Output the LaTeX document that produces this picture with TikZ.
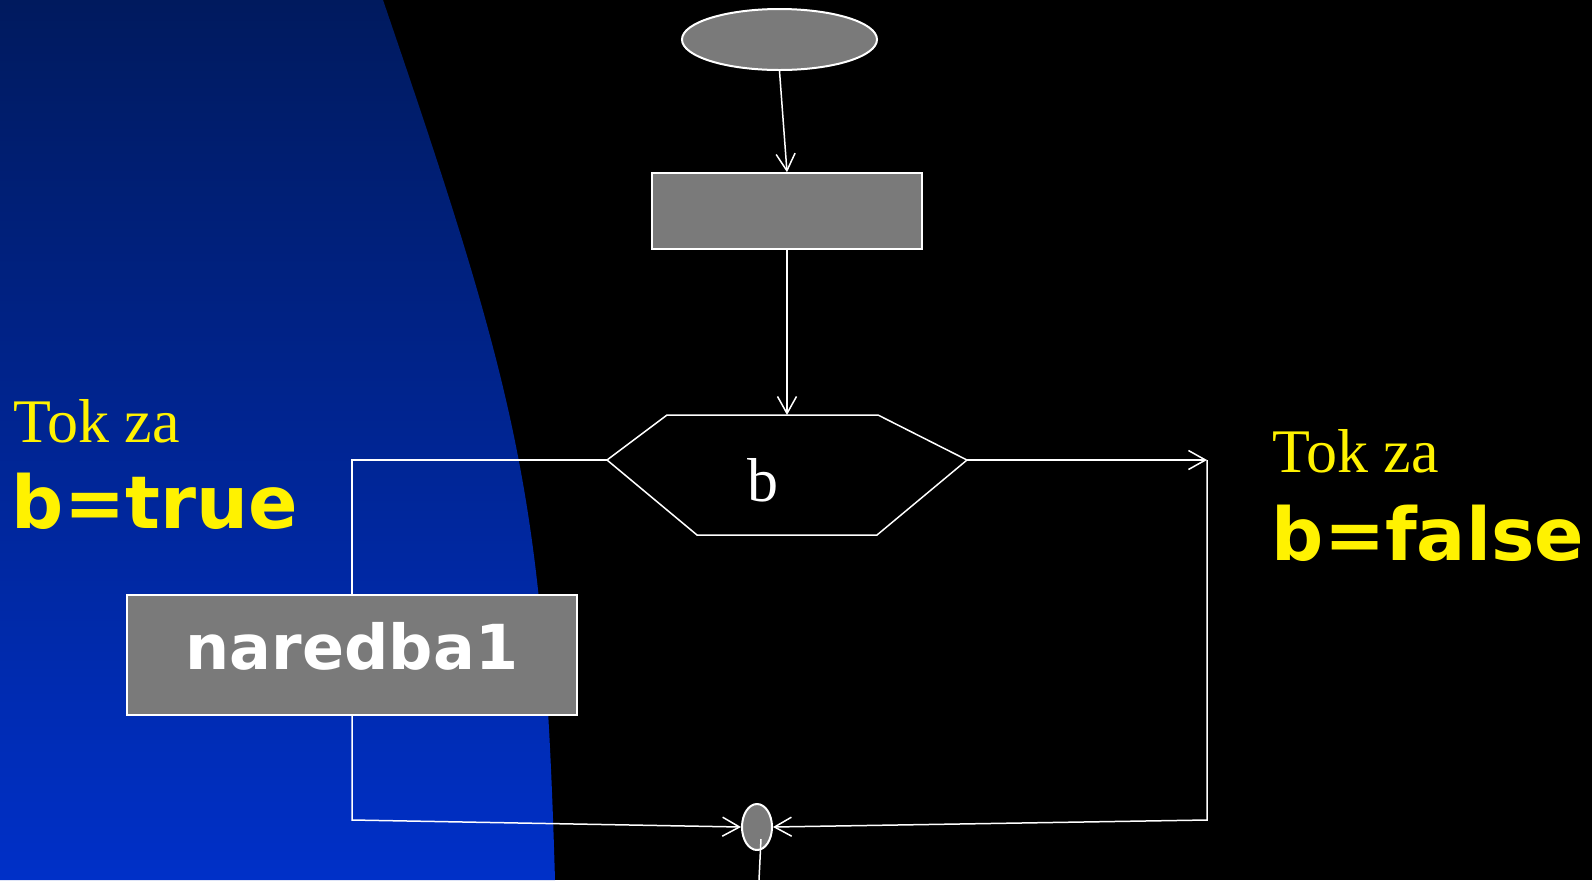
\documentclass[tikz,border=0pt]{standalone}
\usepackage{fontspec}
\setmainfont{Liberation Serif}
\newfontfamily\verdana{DejaVu Sans}
\usetikzlibrary{shapes.geometric,arrows.meta}
\definecolor{boxgray}{HTML}{7A7A7A}
\definecolor{navytop}{HTML}{001A5E}
\definecolor{navymid}{HTML}{002BB4}
\definecolor{bluebot}{HTML}{0030C8}

\begin{document}
\begin{tikzpicture}[x=0.5pt, y=-0.5pt, line width=0.75pt,
    flow/.style={draw=white, fill=boxgray, inner sep=0pt},
    conn/.style={white, -{Straight Barb[length=8.5pt, width=9.5pt]}},
    wire/.style={white},
    tok/.style={yellow, font=\fontsize{31}{36}\selectfont, anchor=base west, inner sep=0pt},
    cond/.style={yellow, font=\verdana\bfseries\fontsize{36.5}{42}\selectfont, anchor=base west, inner sep=0pt}]
    \useasboundingbox (0,0) rectangle (1592,880);
    \fill[black] (0,0) rectangle (1592,880);
    \shade[top color=navytop, middle color=navymid, bottom color=bluebot] (0,0) -- (383,0) .. controls (520,400) and (544,500) .. (555,880) -- (0,880) -- cycle;

    \node[flow, ellipse, minimum width=97.5pt, minimum height=30.5pt, line width=1pt] (start) at (779.5,39.5) {};
    \node[flow, minimum width=135pt, minimum height=38pt] (stmt) at (787,211) {};
    \coordinate (hexT) at (787,415);
    \coordinate (hexL) at (607,460);
    \coordinate (hexR) at (967,460);
    \draw[wire] (667,415) -- (878,415) -- (hexR) -- (877,535) -- (697,535) -- (hexL) -- cycle;
    \node[white, font=\fontsize{31}{36}\selectfont, anchor=base, inner sep=0pt] (cond) at (763,501) {b};
    \node[flow, minimum width=225pt, minimum height=60pt, text=white, text depth=9.5pt,
          font=\verdana\bfseries\fontsize{31}{36}\selectfont] (stmtA) at (352,655) {naredba1};
    \node[flow, ellipse, minimum width=15pt, minimum height=23pt, line width=1pt] (join) at (757,827) {};
    \coordinate (trueL) at (352,460);
    \coordinate (trueB) at (352,820);
    \coordinate (falseR) at (1207,460);
    \coordinate (falseB) at (1207,820);
    \coordinate (outTop) at (761,839);
    \coordinate (out) at (759,880);

    \draw[conn] (start.south) -- (stmt.north);
    \draw[conn] (stmt.south) -- (hexT);
    \draw[wire] (hexL) -- (trueL) -- (stmtA.north);
    \draw[conn] (stmtA.south) -- (trueB) -- (join.west);
    \draw[conn] (hexR) -- (falseR);
    \draw[conn] (falseR) -- (falseB) -- (join.east);
    \draw[wire] (outTop) -- (out);

    \node[tok] (tokT) at (13,442) {Tok za};
    \node[cond] (condT) at (11,528) {b=true};
    \node[tok] (tokF) at (1272,472) {Tok za};
    \node[cond] (condF) at (1271,560) {b=false};
\end{tikzpicture}
\end{document}
